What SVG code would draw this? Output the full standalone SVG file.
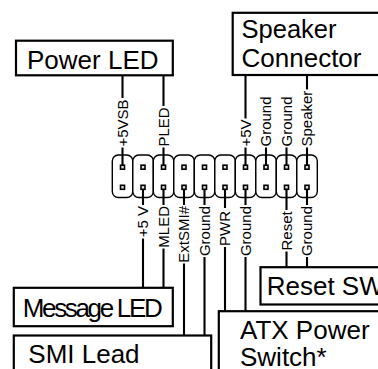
<svg xmlns="http://www.w3.org/2000/svg" width="378" height="369" viewBox="0 0 378 369">
<style>
.box{fill:#fff;stroke:#000;stroke-width:2.2}
.hdr{fill:#fff;stroke:#000;stroke-width:1.4}
.pin{fill:#e0e0e0;stroke:#000;stroke-width:1.6}
.w{stroke:#000;stroke-width:2.1;fill:none}
.big{font-family:"Liberation Sans",Arial,sans-serif;font-size:26px;fill:#000}
.lbl{font-family:"Liberation Sans",Arial,sans-serif;font-size:15px;fill:#000}
</style>
<rect width="378" height="369" fill="#fff"/>
<g id="header">
<rect class="hdr" x="112.3" y="155" width="20.5" height="42.5" rx="6"/>
<rect class="hdr" x="132.8" y="155" width="20.5" height="42.5" rx="6"/>
<rect class="hdr" x="153.3" y="155" width="20.5" height="42.5" rx="6"/>
<rect class="hdr" x="173.8" y="155" width="20.5" height="42.5" rx="6"/>
<rect class="hdr" x="194.3" y="155" width="20.5" height="42.5" rx="6"/>
<rect class="hdr" x="214.8" y="155" width="20.5" height="42.5" rx="6"/>
<rect class="hdr" x="235.3" y="155" width="20.5" height="42.5" rx="6"/>
<rect class="hdr" x="255.8" y="155" width="20.5" height="42.5" rx="6"/>
<rect class="hdr" x="276.3" y="155" width="20.5" height="42.5" rx="6"/>
<rect class="hdr" x="296.8" y="155" width="20.5" height="42.5" rx="6"/>
</g>
<g id="connectors">
<path class="w" d="M122.5 75.3V98M122.5 147.5V167"/>
<path class="w" d="M163.5 75.3V106M163.5 147.5V167"/>
<path class="w" d="M245.5 75V118.5M245.5 147.5V167"/>
<path class="w" d="M266 147.5V167"/>
<path class="w" d="M286.5 147.5V167"/>
<path class="w" d="M307 75V89.5M307 147.5V167"/>
<path class="w" d="M143 187.5V205M143 238.5V287.8"/>
<path class="w" d="M163.5 187.5V205M163.5 248.5V287.8"/>
<path class="w" d="M184 187.5V205M184 263.5V335.5"/>
<path class="w" d="M204.5 187.5V205M204.5 257V335.5"/>
<path class="w" d="M225 187.5V208M225 247V311.2"/>
<path class="w" d="M245.5 187.5V205M245.5 257V311.2"/>
<path class="w" d="M286.5 187.5V210M286.5 251.5V267.2"/>
<path class="w" d="M307 187.5V205M307 257V267.2"/>
</g>
<g id="pins">
<rect class="pin" x="120.5" y="165.2" width="4" height="4"/><rect class="pin" x="120.5" y="185.3" width="4" height="4"/>
<rect class="pin" x="141" y="165.2" width="4" height="4"/><rect class="pin" x="141" y="185.3" width="4" height="4"/>
<rect class="pin" x="161.5" y="165.2" width="4" height="4"/><rect class="pin" x="161.5" y="185.3" width="4" height="4"/>
<rect class="pin" x="182" y="165.2" width="4" height="4"/><rect class="pin" x="182" y="185.3" width="4" height="4"/>
<rect class="pin" x="202.5" y="165.2" width="4" height="4"/><rect class="pin" x="202.5" y="185.3" width="4" height="4"/>
<rect class="pin" x="223" y="165.2" width="4" height="4"/><rect class="pin" x="223" y="185.3" width="4" height="4"/>
<rect class="pin" x="243.5" y="165.2" width="4" height="4"/><rect class="pin" x="243.5" y="185.3" width="4" height="4"/>
<rect class="pin" x="264" y="165.2" width="4" height="4"/><rect class="pin" x="264" y="185.3" width="4" height="4"/>
<rect class="pin" x="284.5" y="165.2" width="4" height="4"/><rect class="pin" x="284.5" y="185.3" width="4" height="4"/>
<rect class="pin" x="305" y="165.2" width="4" height="4"/><rect class="pin" x="305" y="185.3" width="4" height="4"/>
</g>
<g id="pin-labels">
<text class="lbl" transform="translate(127.8 146.5) rotate(-90)">+5VSB</text>
<text class="lbl" transform="translate(168.8 146.5) rotate(-90)">PLED</text>
<text class="lbl" transform="translate(250.8 146.5) rotate(-90)">+5V</text>
<text class="lbl" transform="translate(271.3 146.5) rotate(-90)">Ground</text>
<text class="lbl" transform="translate(291.8 146.5) rotate(-90)">Ground</text>
<text class="lbl" transform="translate(312.3 146.5) rotate(-90)">Speaker</text>
<text class="lbl" text-anchor="end" transform="translate(148.3 206) rotate(-90)">+5 V</text>
<text class="lbl" text-anchor="end" transform="translate(168.8 206) rotate(-90)">MLED</text>
<text class="lbl" text-anchor="end" transform="translate(189.3 206) rotate(-90)">ExtSMI#</text>
<text class="lbl" text-anchor="end" transform="translate(209.8 206) rotate(-90)">Ground</text>
<text class="lbl" transform="translate(230.3 246) rotate(-90)">PWR</text>
<text class="lbl" text-anchor="end" transform="translate(250.8 206) rotate(-90)">Ground</text>
<text class="lbl" transform="translate(291.8 250.5) rotate(-90)">Reset</text>
<text class="lbl" text-anchor="end" transform="translate(312.3 206) rotate(-90)">Ground</text>
</g>
<g id="power-led">
<rect class="box" x="16" y="40.7" width="156.8" height="34.6"/>
<text class="big" x="27" y="69.3">Power LED</text>
</g>
<g id="speaker-connector">
<rect class="box" x="232.7" y="12.8" width="160" height="62.2"/>
<text class="big" x="241.5" y="38" font-size="25" textLength="95" lengthAdjust="spacingAndGlyphs">Speaker</text>
<text class="big" x="241.5" y="66.7" font-size="25" textLength="120" lengthAdjust="spacingAndGlyphs">Connector</text>
</g>
<g id="message-led">
<rect class="box" x="13.8" y="287.8" width="159" height="38.4"/>
<text class="big" x="22.7" y="316.7" font-size="23.5" textLength="140" lengthAdjust="spacing">Message LED</text>
</g>
<g id="smi-lead">
<rect class="box" x="13.8" y="335.5" width="197.4" height="50"/>
<text class="big" x="28.3" y="363.3">SMI Lead</text>
</g>
<g id="atx-power-switch">
<rect class="box" x="218.8" y="311.2" width="180" height="80"/>
<text class="big" x="240" y="339.3">ATX Power</text>
<text class="big" x="240" y="366">Switch*</text>
</g>
<g id="reset-sw">
<rect class="box" x="260.5" y="267.2" width="140" height="37.3"/>
<text class="big" x="266.7" y="295">Reset SW</text>
</g>
</svg>
